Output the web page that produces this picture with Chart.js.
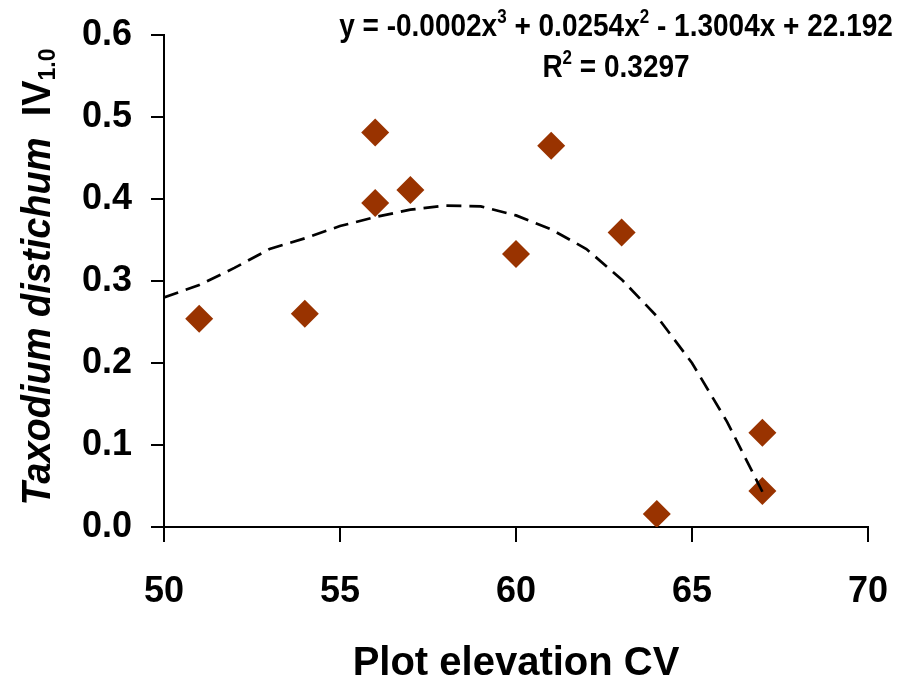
<!DOCTYPE html>
<html>
<head>
<meta charset="utf-8">
<script src="https://cdn.jsdelivr.net/npm/chart.js@4.4.1/dist/chart.umd.min.js"></script>
<style>
    html, body { margin: 0; padding: 0; background: #fff; }
    #wrap { width: 918px; height: 679px; position: relative; }
</style>
</head>
<body>
<div id="wrap"><canvas id="cvChart"></canvas></div>
<script>
/*--------------------------------------------------------------------
Data
--------------------------------------------------------------------*/
const elevationCV = [51, 54, 56, 56, 57, 60, 61, 63, 64, 67, 67];
const taxodiumIV = [0.254, 0.260, 0.481, 0.395, 0.411, 0.333, 0.465, 0.359, 0.016, 0.115, 0.044];

// polynomial trendline as drawn (sampled at whole CV values)
const trendX = [50, 51, 52, 53, 54, 55, 56, 57, 58, 59, 60, 61, 62, 63, 64, 65, 66, 67];
const trendY = [0.280, 0.295, 0.316, 0.339, 0.352, 0.367, 0.378, 0.387, 0.392, 0.391,
                0.380, 0.363, 0.339, 0.302, 0.257, 0.200, 0.128, 0.043];

const xTicks = [50, 55, 60, 65, 70];
const yTicks = [0, 0.1, 0.2, 0.3, 0.4, 0.5, 0.6];

const xTitle = "Plot elevation CV";
const yTitleItalic = "Taxodium distichum";
const yTitlePlain = "  IV";
const yTitleSub = "1.0";
const eqLine1 = [["y = -0.0002x", 0], ["3", 1], [" + 0.0254x", 0], ["2", 1], [" - 1.3004x + 22.192", 0]];
const eqLine2 = [["R", 0], ["2", 1], [" = 0.3297", 0]];

const FONT = "'Liberation Sans', Arial, sans-serif";

/*--------------------------------------------------------------------
Text runs (equation + y title) drawn on the canvas
--------------------------------------------------------------------*/
function drawRuns(ctx, runs, cx, baseY) {
    const widths = runs.map(r => { ctx.font = r.font; return ctx.measureText(r.text).width; });
    let x = cx - widths.reduce((a, b) => a + b, 0) / 2;
    runs.forEach((r, i) => {
        ctx.font = r.font;
        ctx.fillText(r.text, x, baseY + r.dy);
        x += widths[i];
    });
}

const textPlugin = {
    id: "textPlugin",
    afterDraw(chart) {
        const ctx = chart.ctx;
        ctx.save();
        ctx.fillStyle = "#000";
        ctx.textBaseline = "alphabetic";
        ctx.textAlign = "left";

        const big = "bold 28px " + FONT;
        const sup = "bold 17px " + FONT;
        const toRuns = line => line.map(([t, s]) => ({text: t, font: s ? sup : big, dy: s ? -11 : 0}));

        // equation glyphs in the reference are a bit taller than wide
        ctx.save();
        ctx.translate(616, 0);
        ctx.scale(1, 1.15);
        drawRuns(ctx, toRuns(eqLine1), 0, 31);
        drawRuns(ctx, toRuns(eqLine2), 0, 67);
        ctx.restore();

        // rotated y title
        ctx.translate(50, 277);
        ctx.rotate(-Math.PI / 2);
        ctx.scale(1, 1.08);
        drawRuns(ctx, [
            {text: yTitleItalic, font: "italic bold 38px " + FONT, dy: 0},
            {text: yTitlePlain, font: "bold 38px " + FONT, dy: 0},
            {text: yTitleSub, font: "bold 23px " + FONT, dy: 5},
        ], 0, 0);
        ctx.restore();
    }
};

/*--------------------------------------------------------------------
Chart
--------------------------------------------------------------------*/
const points = elevationCV.map((x, i) => ({x: x, y: taxodiumIV[i]}));
const trend = trendX.map((x, i) => ({x: x, y: trendY[i]}));

new Chart(document.getElementById("cvChart").getContext("2d"), {
    type: "scatter",
    data: {
        datasets: [
            {
                label: "Trend",
                data: trend,
                showLine: true,
                borderColor: "#000",
                borderWidth: 2.7,
                borderDash: [15, 8],
                tension: 0,
                pointRadius: 0,
                order: 0
            },
            {
                label: "Taxodium distichum",
                data: points,
                pointStyle: "rectRot",
                pointRadius: 14,
                pointHoverRadius: 14,
                backgroundColor: "#993300",
                borderColor: "#993300",
                borderWidth: 0,
                order: 1
            }
        ]
    },
    options: {
        responsive: true,
        maintainAspectRatio: false,
        animation: false,
        layout: {padding: {left: 0, right: 50, top: 35, bottom: 0}},
        plugins: {legend: {display: false}, tooltip: {enabled: false}},
        scales: {
            x: {
                type: "linear",
                min: 50,
                max: 70,
                afterFit: s => { s.height = 152; s.paddingLeft = 0; s.paddingRight = 0; },
                afterBuildTicks: s => { s.ticks = xTicks.map(v => ({value: v})); },
                grid: {drawOnChartArea: false, drawTicks: true, tickLength: 15, color: "#000", lineWidth: 2},
                border: {display: true, color: "#000", width: 2},
                ticks: {
                    color: "#000",
                    padding: 28,
                    font: {family: FONT, size: 36, weight: "bold"}
                },
                title: {
                    display: true,
                    text: xTitle,
                    color: "#000",
                    padding: {top: 0, bottom: -5},
                    font: {family: FONT, size: 40, weight: "bold", lineHeight: 1.0}
                }
            },
            y: {
                type: "linear",
                min: 0,
                max: 0.6,
                afterFit: s => { s.width = 164; s.paddingTop = 0; s.paddingBottom = 0; },
                afterBuildTicks: s => { s.ticks = yTicks.map(v => ({value: v})); },
                grid: {drawOnChartArea: false, drawTicks: true, tickLength: 13, color: "#000", lineWidth: 2},
                border: {display: true, color: "#000", width: 2},
                ticks: {
                    color: "#000",
                    padding: 19,
                    font: {family: FONT, size: 36, weight: "bold"},
                    callback: v => Number(v).toFixed(1)
                }
            }
        }
    },
    plugins: [textPlugin]
});
</script>
</body>
</html>
